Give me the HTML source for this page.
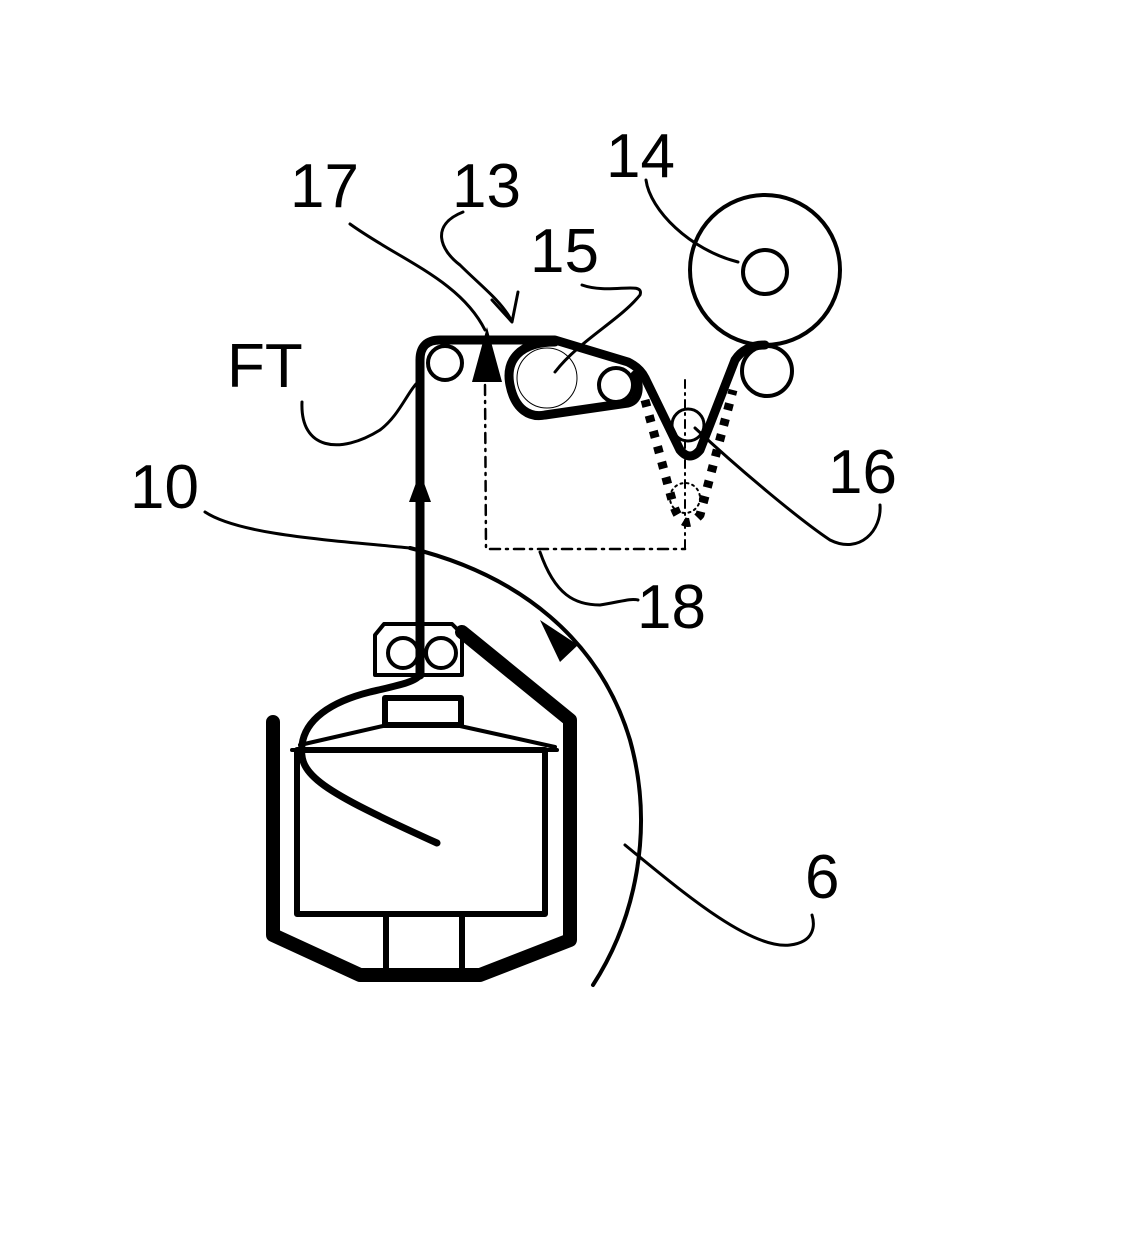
<!DOCTYPE html>
<html><head><style>body{margin:0;background:#fff}svg{display:block}text{font-family:"Liberation Sans",sans-serif;font-size:62px;fill:#000}</style></head>
<body>
<svg width="1136" height="1251" viewBox="0 0 1136 1251" xmlns="http://www.w3.org/2000/svg">
<g fill="none" stroke="#000" stroke-linecap="round" stroke-linejoin="round">
<!-- container outer -->
<path d="M273 722 L273 935 L360 975 L480 975 L570 940 L570 720 L462 632" stroke-width="14"/>
<rect x="297" y="750" width="248" height="164" stroke-width="6"/>
<line x1="292" y1="750" x2="557" y2="750" stroke-width="4"/>
<line x1="386" y1="914" x2="386" y2="972" stroke-width="6"/>
<line x1="462" y1="914" x2="462" y2="972" stroke-width="6"/>
<path d="M300 745 L383 726 L460 726 L555 747" stroke-width="4"/>
<rect x="385" y="698" width="76" height="27" stroke-width="6"/>
<path d="M375 675 L375 635 L384 624 L452 624 L462 634 L462 675 Z" stroke-width="4"/>
<circle cx="403" cy="653" r="15" stroke-width="4"/>
<circle cx="441" cy="653" r="15" stroke-width="4"/>
<!-- yarn in container -->
<path d="M420 675 C415 682 400 685 370 692 C330 702 305 720 302 745 C298 775 320 790 437 843" stroke-width="7"/>
<!-- vertical yarn -->
<path d="M420 675 L420 360 Q420 340 440 340 L555 340 L628 362 Q640 368 645 378 L680 450 Q690 462 700 450 L735 360 Q745 345 765 345" stroke-width="9"/>
<!-- belt 15 -->
<path d="M555 342 C520 342 505 360 510 385 C515 410 530 418 545 415 L628 403 C640 400 640 385 635 375" stroke-width="9"/>
<circle cx="547" cy="378" r="30" stroke-width="1"/>
<circle cx="616" cy="385" r="17" stroke-width="4"/>
<circle cx="445" cy="363" r="17" stroke-width="4"/>
<circle cx="688" cy="425" r="16" stroke-width="3"/>
<circle cx="767" cy="371" r="25" stroke-width="4"/>
<circle cx="765" cy="270" r="75" stroke-width="4"/>
<circle cx="765" cy="272" r="22" stroke-width="4"/>
<!-- dashed U -->
<path d="M645 400 L672 500 Q680 530 695 520 L700 515 L733 390" stroke-width="9" stroke-dasharray="7 9" stroke-linecap="butt"/>
<circle cx="685" cy="498" r="15" stroke-width="2" stroke-dasharray="2 4"/>
<line x1="685" y1="380" x2="685" y2="548" stroke-width="2" stroke-dasharray="8 5 2 5"/>
<!-- dash dot 18 -->
<path d="M485 385 L486 549 L685 549" stroke-width="2.5" stroke-dasharray="10 6 2 6"/>
<!-- arc 6 -->
<path d="M410 548 C520 575 600 640 630 740 C655 830 635 920 593 985" stroke-width="4"/>
<path d="M520 570" />
<!-- leaders -->
<path d="M350 224 C400 260 460 280 485 330" stroke-width="3"/>
<path d="M463 212 C430 225 440 250 460 265 C480 285 500 300 510 318" stroke-width="3"/>
<path d="M492 300 L512 322 L518 292" stroke-width="3"/>
<path d="M582 285 C610 295 645 280 640 295 C620 320 580 340 555 372" stroke-width="3"/>
<path d="M646 180 C650 210 690 250 738 262" stroke-width="3"/>
<path d="M302 402 C300 450 340 455 380 430 C400 415 408 390 420 380" stroke-width="3"/>
<path d="M205 512 C240 535 330 540 410 548" stroke-width="3"/>
<path d="M540 552 C555 595 575 605 600 605 C620 602 630 598 638 600" stroke-width="3"/>
<path d="M695 428 C740 470 800 520 830 540 C860 555 882 530 880 505" stroke-width="3"/>
<path d="M625 845 C680 890 750 950 790 945 C815 942 815 925 812 915" stroke-width="3"/>
</g>
<!-- arrows -->
<polygon points="487,327 472,382 502,382" fill="#000"/>
<polygon points="420,472 409,502 431,502" fill="#000"/>
<polygon points="540,620 560,662 578,645" fill="#000"/>
<rect x="410" y="502" width="20" height="0" fill="#000"/>
<text x="290" y="207">17</text>
<text x="452" y="207">13</text>
<text x="530" y="272">15</text>
<text x="606" y="177">14</text>
<text x="227" y="387">FT</text>
<text x="130" y="508">10</text>
<text x="637" y="628">18</text>
<text x="828" y="493">16</text>
<text x="805" y="898">6</text>
</svg>
</body></html>
